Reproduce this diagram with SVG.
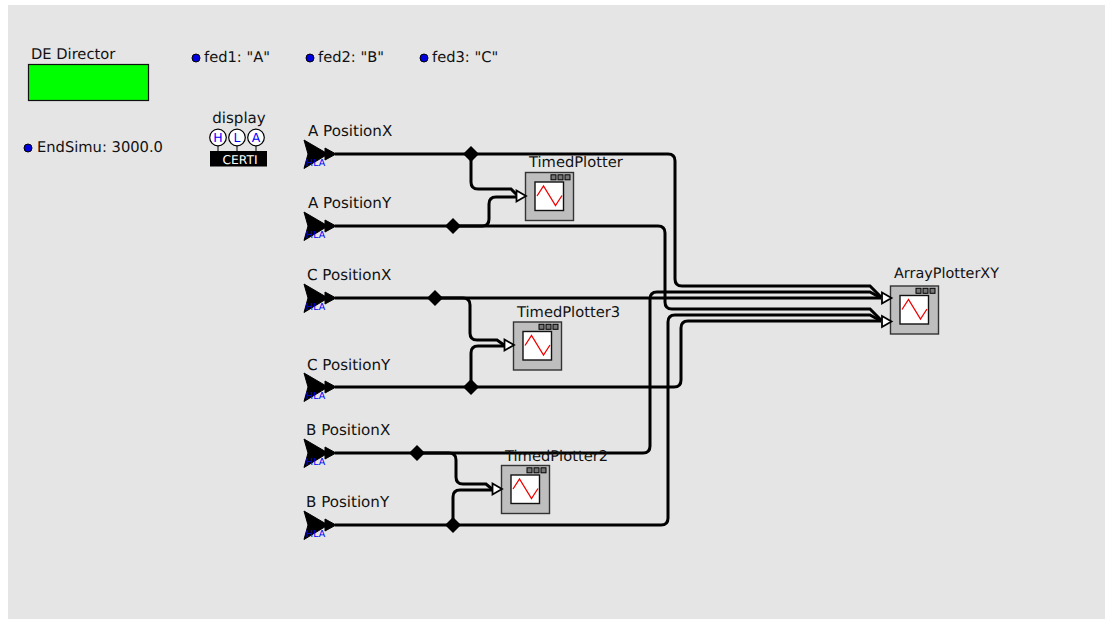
<svg xmlns="http://www.w3.org/2000/svg" xmlns:xlink="http://www.w3.org/1999/xlink" width="1105" height="619" viewBox="0 0 1105 619">
<style>
text{font-family:"DejaVu Sans",sans-serif;font-size:14.7px;fill:#111;text-rendering:geometricPrecision}
.pos{font-size:15.1px}
.dot{fill:#0000e0;stroke:#000;stroke-width:1}
.w{fill:none;stroke:#000;stroke-width:3}
.hc{fill:#fff;stroke:#000;stroke-width:1.2}
.ht{font-size:12.500px;fill:#0000ff;text-anchor:middle}
.hla{font-size:9.500px;fill:#0000ff}
.in{fill:#fff;stroke:#000;stroke-width:1.8}
</style>
<defs>
<g id="plot">
<rect x="0.500" y="0.500" width="48" height="48" fill="#bebebe" stroke="#333" stroke-width="1.400"/>
<rect x="10" y="10" width="28.500" height="28.500" fill="#fff" stroke="#111" stroke-width="1.400"/>
<rect x="26" y="2.800" width="5" height="5" fill="#777" stroke="#000"/>
<rect x="33" y="2.800" width="5" height="5" fill="#777" stroke="#000"/>
<rect x="40" y="2.800" width="5" height="5" fill="#777" stroke="#000"/>
<polyline points="12,24 18.500,14 30.500,33.500 37,23.500" fill="none" stroke="#f00000" stroke-width="1.300"/>
</g>
<g id="src">
<path d="M0,0L24,14L0,28.500L4,14Z" fill="#000" stroke="#000"/>
<path d="M21,8L32,14L21,20Z" fill="#000" stroke="#000"/>
</g>
<path id="dia" d="M0,-8L8,0L0,8L-8,0Z" fill="#000"/>
<path id="tri" d="M-9.500,-5.500L0,0L-9.500,5.500Z" class="in"/>
</defs>
<rect x="8" y="5" width="1097" height="614" fill="#e5e5e5"/>

<g id="connectors">
<path class="w" d="M335,154H668Q675,154 675,161V279Q675,286 682,286H870L881,297"/>
<path class="w" d="M471,154V182Q471,189 478,189H511L518,196"/>
<path class="w" d="M335,226H658Q665,226 665,233V302Q665,309 672,309H870L881,320"/>
<path class="w" d="M453,226H482Q489,226 489,219V204Q489,197 496,197H517"/>
<path class="w" d="M335,298H881"/>
<path class="w" d="M435,298H463Q470,298 470,305V333Q470,340 477,340H497L504,345"/>
<path class="w" d="M335,387H674Q681,387 681,380V328Q681,321 688,321H881"/>
<path class="w" d="M471,387V353Q471,346 478,346H505"/>
<path class="w" d="M335,453H643Q650,453 650,446V299Q650,292 657,292H870L881,298"/>
<path class="w" d="M417,453H449Q456,453 456,460V477Q456,484 463,484H486L492,489"/>
<path class="w" d="M335,525H661Q668,525 668,518V322Q668,315 675,315H870L881,321"/>
<path class="w" d="M453,525V497Q453,490 460,490H492"/>
<use xlink:href="#dia" href="#dia" x="471" y="154"/>
<use xlink:href="#dia" href="#dia" x="453" y="226"/>
<use xlink:href="#dia" href="#dia" x="435" y="298"/>
<use xlink:href="#dia" href="#dia" x="471" y="387"/>
<use xlink:href="#dia" href="#dia" x="417" y="453"/>
<use xlink:href="#dia" href="#dia" x="453" y="525"/>
</g>

<g id="director"><text x="31" y="59">DE Director</text><rect x="28.500" y="64.500" width="120" height="36" fill="#00ff00" stroke="#111" stroke-width="1.200"/></g>
<g id="fed1"><circle class="dot" cx="196" cy="58" r="4"/><text x="204" y="62">fed1: "A"</text></g>
<g id="fed2"><circle class="dot" cx="310" cy="58" r="4"/><text x="318" y="62">fed2: "B"</text></g>
<g id="fed3"><circle class="dot" cx="424" cy="58" r="4"/><text x="432" y="62">fed3: "C"</text></g>
<g id="endsimu"><circle class="dot" cx="28" cy="148" r="4"/><text x="37" y="152">EndSimu: 3000.0</text></g>

<g id="display">
<text class="pos" x="239" y="123" text-anchor="middle">display</text>
<path d="M218,146V152M237,146V152M256,146V152" stroke="#000" fill="none"/>
<circle class="hc" cx="218" cy="137.500" r="8.300"/><circle class="hc" cx="237" cy="137.500" r="8.300"/><circle class="hc" cx="256" cy="137.500" r="8.300"/>
<text class="ht" x="218" y="142">H</text><text class="ht" x="237" y="142">L</text><text class="ht" x="256" y="142">A</text>
<rect x="210" y="151" width="57" height="15.500" fill="#000"/>
<text x="240" y="164" text-anchor="middle" style="fill:#fff;font-size:12px" textLength="35" lengthAdjust="spacingAndGlyphs">CERTI</text>
</g>

<g id="apx"><text class="pos" x="308" y="136">A PositionX</text><use xlink:href="#src" href="#src" x="304" y="140"/><text class="hla" x="306" y="166">HLA</text></g>
<g id="apy"><text class="pos" x="308" y="208">A PositionY</text><use xlink:href="#src" href="#src" x="304" y="212"/><text class="hla" x="306" y="238">HLA</text></g>
<g id="cpx"><text class="pos" x="307" y="280">C PositionX</text><use xlink:href="#src" href="#src" x="304" y="284"/><text class="hla" x="306" y="310">HLA</text></g>
<g id="cpy"><text class="pos" x="307" y="370">C PositionY</text><use xlink:href="#src" href="#src" x="304" y="373"/><text class="hla" x="306" y="399">HLA</text></g>
<g id="bpx"><text class="pos" x="306" y="435">B PositionX</text><use xlink:href="#src" href="#src" x="304" y="439"/><text class="hla" x="306" y="465">HLA</text></g>
<g id="bpy"><text class="pos" x="306" y="507">B PositionY</text><use xlink:href="#src" href="#src" x="304" y="511"/><text class="hla" x="306" y="537">HLA</text></g>

<g id="tp1"><text x="529" y="167">TimedPlotter</text><use xlink:href="#plot" href="#plot" x="525" y="172"/><use xlink:href="#tri" href="#tri" x="526" y="196"/></g>
<g id="tp3"><text x="517" y="317">TimedPlotter3</text><use xlink:href="#plot" href="#plot" x="513" y="321.500"/><use xlink:href="#tri" href="#tri" x="514" y="345"/></g>
<g id="tp2"><text x="505" y="461">TimedPlotter2</text><use xlink:href="#plot" href="#plot" x="501" y="465"/><use xlink:href="#tri" href="#tri" x="502" y="489"/></g>
<g id="xy"><text style="font-size:14.400px" x="894" y="278">ArrayPlotterXY</text><use xlink:href="#plot" href="#plot" x="890" y="285.500"/><use xlink:href="#tri" href="#tri" x="891.500" y="298"/><use xlink:href="#tri" href="#tri" x="891.500" y="321.500"/></g>
</svg>
